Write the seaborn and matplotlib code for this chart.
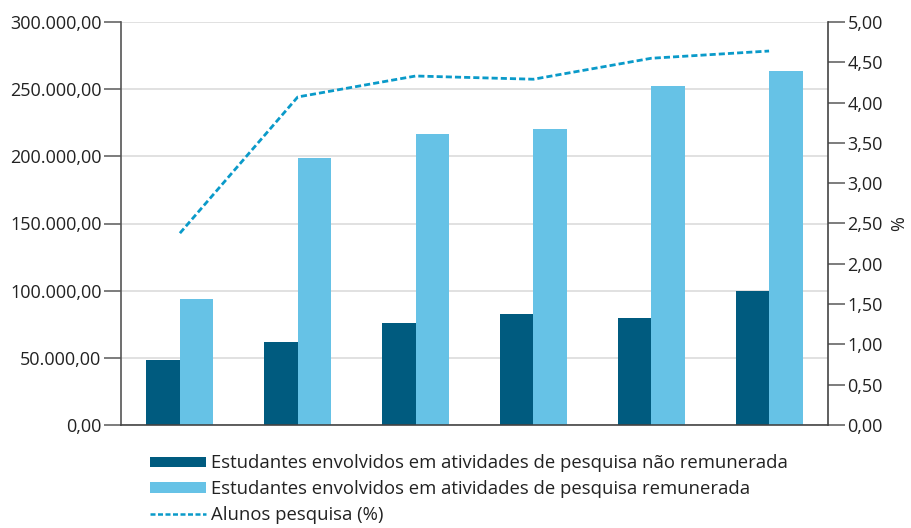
import matplotlib
matplotlib.use("Agg")
import matplotlib.pyplot as plt
import seaborn as sns
import pandas as pd
from matplotlib.ticker import FuncFormatter, MultipleLocator
from matplotlib.patches import Patch
from matplotlib.lines import Line2D

groups = ["1", "2", "3", "4", "5", "6"]
nao_remunerada = [48400, 61800, 75800, 82400, 79400, 99900]
remunerada = [93800, 198400, 216500, 220400, 252700, 263400]
alunos_pct = [2.38, 4.07, 4.33, 4.29, 4.55, 4.64]

lab_nao = "Estudantes envolvidos em atividades de pesquisa não remunerada"
lab_rem = "Estudantes envolvidos em atividades de pesquisa remunerada"
lab_pct = "Alunos pesquisa (%)"

c_dark = "#005B7F"
c_light = "#66C2E6"
c_line = "#0A9AC9"

sns.set_theme(style="white")
plt.rcParams["font.family"] = ["Open Sans", "DejaVu Sans"]

df = pd.DataFrame({
    "grupo": groups * 2,
    "valor": nao_remunerada + remunerada,
    "serie": [lab_nao] * len(groups) + [lab_rem] * len(groups),
})

fig = plt.figure(figsize=(9.11, 5.28), dpi=100)
ax = fig.add_axes([121 / 911, 103 / 528, 707 / 911, 403 / 528])

sns.barplot(data=df, x="grupo", y="valor", hue="serie", ax=ax,
            palette=[c_dark, c_light], width=0.57, saturation=1,
            legend=False, linewidth=0)

def br(v, decimals=2):
    s = f"{v:,.{decimals}f}"
    return s.replace(",", "X").replace(".", ",").replace("X", ".")

ax.set_ylim(0, 300000)
ax.yaxis.set_major_locator(MultipleLocator(50000))
ax.yaxis.set_major_formatter(FuncFormatter(lambda v, p: br(v)))
ax.set_xlim(-0.5, 5.5)
ax.set_xticks([])
ax.set_xlabel("")
ax.set_ylabel("")
ax.grid(axis="y", color="#dcdcdc", linewidth=1.2)
ax.set_axisbelow(True)
for s in ["top", "right"]:
    ax.spines[s].set_visible(False)
ax.spines["left"].set_color("#555555")
ax.spines["bottom"].set_color("#444444")
ax.spines["left"].set_linewidth(1.2)
ax.spines["bottom"].set_linewidth(1.2)
ax.tick_params(axis="y", left=True, length=12, width=1.2, color="#666666",
               labelsize=13, labelcolor="#222222", pad=2)

ax2 = ax.twinx()
sns.lineplot(x=list(range(len(groups))), y=alunos_pct, ax=ax2, color=c_line,
             linewidth=2, linestyle=(0, (2.2, 1.1)))
ax2.set_ylim(0, 5)
ax2.yaxis.set_major_locator(MultipleLocator(0.5))
ax2.yaxis.set_major_formatter(FuncFormatter(lambda v, p: br(v)))
for s in ["top", "left", "bottom"]:
    ax2.spines[s].set_visible(False)
ax2.spines["right"].set_color("#444444")
ax2.spines["right"].set_linewidth(1.2)
ax2.tick_params(axis="y", right=True, length=12, width=1.2, color="#666666",
                labelsize=13, labelcolor="#222222", pad=2)
ax2.set_ylabel("%", fontsize=13, color="#222222", labelpad=5)
ax2.grid(False)

handles = [
    Patch(facecolor=c_dark, edgecolor="none"),
    Patch(facecolor=c_light, edgecolor="none"),
    Line2D([0], [0], color=c_line, linewidth=1.8, linestyle=(0, (2.0, 1.0))),
]
fig.legend(handles, [lab_nao, lab_rem, lab_pct], loc="upper left",
           bbox_to_anchor=(143 / 911, 1 - 447 / 528), frameon=False,
           fontsize=13.3, handlelength=3.0, handleheight=0.5,
           labelspacing=0.42, handletextpad=0.3, borderaxespad=0,
           labelcolor="#222222")

fig.savefig("out.png", dpi=100)
